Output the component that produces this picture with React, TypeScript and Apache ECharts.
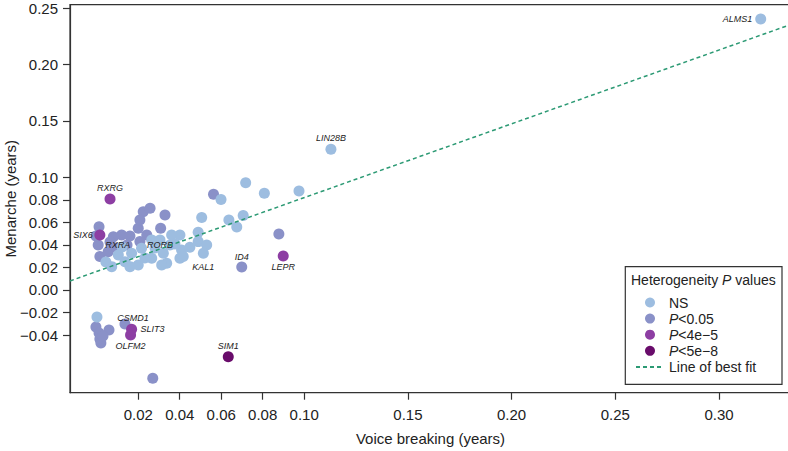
import React, { useEffect, useRef } from "react";
import * as echarts from "echarts";

type Pt = [number, number, string?];

// Voice breaking (x, years) vs Menarche (y, years); optional gene label
const nsPoints: Pt[] = [
  [0.3201, 0.2405, "ALMS1"],
  [0.1129, 0.1249, "LIN28B"],
  [0.0718, 0.0952],
  [0.0808, 0.0858],
  [0.0975, 0.0879],
  [0.0599, 0.0803],
  [0.0506, 0.0644],
  [0.0637, 0.0621],
  [0.0706, 0.066],
  [0.0675, 0.0559],
  [0.0489, 0.0512],
  [0.0401, 0.0488],
  [0.0361, 0.0488],
  [0.0353, 0.0399],
  [0.0409, 0.0355],
  [0.0489, 0.0429],
  [0.053, 0.0399],
  [0.0514, 0.0326, "KAL1"],
  [0.0401, 0.0281],
  [0.0337, 0.0237],
  [0.0449, 0.0379],
  [0.0104, 0.0311],
  [0.0168, 0.0326],
  [0.0216, 0.037],
  [0.0265, 0.0281],
  [0.0321, 0.0326],
  [0.0072, 0.0207],
  [0.0136, 0.0251],
  [0.02, 0.0222],
  [0.0313, 0.0222],
  [0.0265, 0.0444],
  [0.016, 0.0207],
  [0.0001, -0.024],
  [0.0417, 0.0296],
  [0.0281, 0.0373],
  [0.0232, 0.0284],
  [0.0377, 0.0408],
  [0.0122, 0.0382],
  [0.0044, 0.0249],
  [0.0305, 0.0444],
];

const p05Points: Pt[] = [
  [0.0563, 0.0849],
  [0.0878, 0.0497],
  [0.0699, 0.0204, "ID4"],
  [0.0011, 0.0562],
  [0.0007, 0.0399, "RXRA"],
  [0.0015, 0.0296],
  [0.008, 0.0473],
  [0.012, 0.0488],
  [0.0055, 0.034],
  [0.02, 0.0548],
  [0.0224, 0.0695],
  [0.0257, 0.0725],
  [0.0208, 0.0621],
  [0.0329, 0.0666],
  [0.0241, 0.0488],
  [0.0308, 0.0548],
  [0.0208, 0.0429, "RORB"],
  [0.016, 0.0479],
  [-0.0004, 0.0479],
  [0.0064, 0.0426],
  [0.0097, 0.0373],
  [0.0146, 0.0399],
  [-0.0004, -0.0328],
  [0.0011, -0.0382],
  [0.0015, -0.0435],
  [0.002, -0.047],
  [0.0059, -0.0355],
  [0.003, -0.0408],
  [0.0136, -0.0302, "CSMD1"],
  [0.027, -0.0784],
];

const p4e5Points: Pt[] = [
  [0.0064, 0.0808, "RXRG"],
  [0.0015, 0.0488, "SIX6"],
  [0.0899, 0.0302, "LEPR"],
  [0.0168, -0.0349, "SLIT3"],
  [0.0163, -0.0399, "OLFM2"],
];

const p5e8Points: Pt[] = [[0.0634, -0.0592, "SIM1"]];

// Line of best fit end points (at the plot's left and right edges)
const fitLine: [number, number][] = [
  [-0.0129, 0.008],
  [0.3347, 0.2357],
];

const xTicks = [0.02, 0.04, 0.06, 0.08, 0.1, 0.15, 0.2, 0.25, 0.3];
const yTicks = [-0.04, -0.02, 0, 0.02, 0.04, 0.06, 0.08, 0.1, 0.15, 0.2, 0.25];

const groupNames = ["NS", "P<0.05", "P<4e\u22125", "P<5e\u22128"];
const fitName = "Line of best fit";
const xTitle = "Voice breaking (years)";
const yTitle = "Menarche (years)";

const COLORS = ["#9dbde0", "#8a91c8", "#8d3ea3", "#690c6b"];
const FONT = "'Liberation Sans', Arial, Helvetica, sans-serif";

const labelPlace: Record<string, any> = {
  ALMS1: { position: "left", distance: 3 },
  LIN28B: { position: "top", distance: 1.5 },
  RXRG: { position: "top", distance: 1 },
  SIX6: { position: "left", distance: 1.5 },
  RXRA: { position: "right", distance: 1.5 },
  RORB: { position: "right", distance: 1.5, offset: [0, 3] },
  KAL1: { position: "bottom", distance: 3.5 },
  ID4: { position: "top", distance: 0 },
  LEPR: { position: "bottom", distance: 1 },
  CSMD1: { position: "top", distance: 1, offset: [8, 5] },
  SLIT3: { position: "right", distance: 3.5 },
  OLFM2: { position: "bottom", distance: 1 },
  SIM1: { position: "top", distance: 0.5 },
};

function toItems(pts: Pt[]) {
  return pts.map((p) => {
    const item: any = { value: [p[0], p[1]] };
    if (p[2]) {
      const place = labelPlace[p[2]] || { position: "top" };
      item.name = p[2];
      item.label = {
        show: true,
        formatter: p[2],
        fontFamily: FONT,
        fontStyle: "italic",
        fontSize: 9,
        color: "#222",
        ...place,
      };
    }
    return item;
  });
}

const fmt = (v: number) => v.toFixed(2).replace("-", "\u2212");

export default function App() {
  const ref = useRef<HTMLDivElement>(null);
  useEffect(() => {
    if (!ref.current) return;
    const chart = echarts.init(ref.current, undefined, { renderer: "svg" });
    const axisLine = { show: true, onZero: false, lineStyle: { color: "#333", width: 1.2 } };
    const scatterSeries = (idx: number, pts: Pt[]) => ({
      name: groupNames[idx],
      type: "scatter",
      symbol: "circle",
      symbolSize: 11,
      itemStyle: { color: COLORS[idx], opacity: 1 },
      data: toItems(pts),
      z: 2,
      emphasis: { disabled: true },
    });
    chart.setOption({
      animation: false,
      textStyle: { fontFamily: FONT },
      grid: {
        left: 70,
        top: 4.7,
        right: -3,
        bottom: 58.3,
        containLabel: false,
        outerBoundsMode: "none",
        show: true,
        borderColor: "#333",
        borderWidth: 1.2,
        backgroundColor: "transparent",
      },
      xAxis: {
        type: "value",
        min: -0.0129,
        max: 0.3347,
        axisLine,
        splitLine: { show: false },
        axisTick: { show: true, length: 7, customValues: xTicks, lineStyle: { color: "#333", width: 1.2 } },
        axisLabel: { customValues: xTicks, formatter: fmt, fontSize: 15, color: "#222", margin: 14, fontFamily: FONT },
        name: xTitle,
        nameLocation: "middle",
        nameGap: 38,
        nameTextStyle: { fontSize: 15, color: "#222", fontFamily: FONT },
      },
      yAxis: {
        type: "value",
        min: -0.0912,
        max: 0.2532,
        axisLine,
        splitLine: { show: false },
        axisTick: { show: true, length: 7, customValues: yTicks, lineStyle: { color: "#333", width: 1.2 } },
        axisLabel: { customValues: yTicks, formatter: fmt, fontSize: 15, color: "#222", margin: 12, fontFamily: FONT },
      },
      legend: {
        data: [...groupNames, { name: fitName, itemStyle: { opacity: 0 } }],
        orient: "vertical",
        left: 635,
        top: 295.5,
        padding: 0,
        z: 20,
        itemWidth: 28,
        itemHeight: 10,
        itemGap: 2.1,
        selectedMode: false,
        textStyle: {
          fontSize: 14,
          lineHeight: 14,
          color: "#222",
          fontFamily: FONT,
          rich: { i: { fontStyle: "italic", fontSize: 14, lineHeight: 14, color: "#222", fontFamily: FONT } },
        },
        formatter: (n: string) => (n.startsWith("P") ? "{i|P}" + n.slice(1) : n),
      },
      graphic: [
        {
          type: "text",
          x: 10,
          y: 198.7,
          rotation: Math.PI / 2,
          z: 21,
          silent: true,
          style: {
            text: yTitle,
            fontSize: 15,
            fontFamily: FONT,
            fill: "#222",
            align: "center",
            verticalAlign: "middle",
          },
        },
        {
          type: "rect",
          shape: { x: 625.3, y: 266.7, width: 156.7, height: 117.6 },
          style: { fill: "#fff", stroke: "#333", lineWidth: 1.2 },
          z: 5,
          silent: true,
        },
        {
          type: "text",
          x: 631,
          y: 280,
          z: 21,
          silent: true,
          style: {
            text: "Heterogeneity {i|P} values",
            fontSize: 14,
            fontFamily: FONT,
            fill: "#222",
            verticalAlign: "middle",
            rich: { i: { fontStyle: "italic", fontSize: 14, fontFamily: FONT, fill: "#222" } },
          },
        },
      ],
      series: [
        scatterSeries(1, p05Points),
        scatterSeries(0, nsPoints),
        scatterSeries(2, p4e5Points),
        scatterSeries(3, p5e8Points),
        {
          name: fitName,
          type: "line",
          data: fitLine,
          showSymbol: false,
          symbol: "none",
          silent: true,
          z: 3,
          lineStyle: { color: "#2c9a74", width: 1.5, type: [4, 3] },
          itemStyle: { color: "#2c9a74" },
        },
      ],
    });
    return () => chart.dispose();
  }, []);
  return <div ref={ref} style={{ position: "absolute", left: 0, top: 0, width: 788, height: 451 }} />;
}
